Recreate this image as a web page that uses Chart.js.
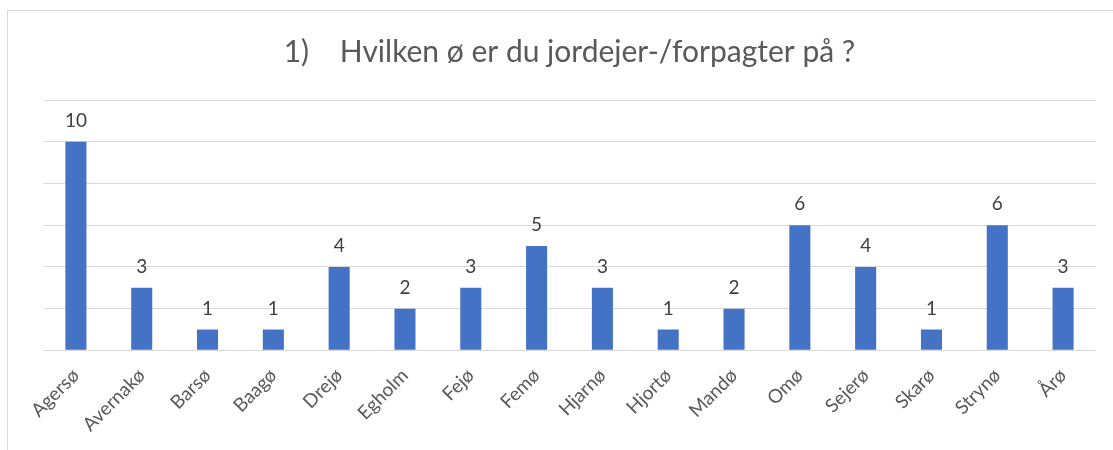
<!DOCTYPE html>
<html>
<head>
<meta charset="utf-8">
<script src="https://cdn.jsdelivr.net/npm/chart.js@4"></script>
<style>
    html, body { margin: 0; padding: 0; background: #fff; }
    #wrap { position: relative; width: 1113px; height: 450px; overflow: hidden; }
    #frame {
        position: absolute; left: 7px; top: 10px; width: 1200px; height: 500px;
        border-left: 1px solid #d9d9d9; border-top: 1px solid #d9d9d9;
    }
    #chart { position: absolute; left: 0; top: 0; }
</style>
</head>
<body>
<div id="wrap">
    <div id="frame"></div>
    <canvas id="chart" width="1113" height="450"></canvas>
</div>
<script>
// Chart data
const islands = ['Agersø', 'Avernakø', 'Barsø', 'Baagø', 'Drejø', 'Egholm', 'Fejø', 'Femø',
    'Hjarnø', 'Hjortø', 'Mandø', 'Omø', 'Sejerø', 'Skarø', 'Strynø', 'Årø'];
const answers = [10, 3, 1, 1, 4, 2, 3, 5, 3, 1, 2, 6, 4, 1, 6, 3];
const titleText = '1)    Hvilken ø er du jordejer-/forpagter på ?';

const fontFamily = "Lato, 'Open Sans', sans-serif";

// Draw value above each bar
const valueLabels = {
    id: 'valueLabels',
    afterDatasetsDraw(chart) {
        const ctx = chart.ctx;
        const meta = chart.getDatasetMeta(0);
        ctx.save();
        ctx.font = '19px ' + fontFamily;
        ctx.fillStyle = '#404040';
        ctx.textAlign = 'center';
        ctx.textBaseline = 'alphabetic';
        meta.data.forEach((bar, i) => {
            ctx.fillText(answers[i], bar.x, bar.y - 15);
        });
        ctx.restore();
    }
};

new Chart(document.getElementById('chart'), {
    type: 'bar',
    data: {
        labels: islands,
        datasets: [{
            data: answers,
            backgroundColor: '#4472c4',
            borderWidth: 0,
            barPercentage: 0.64,
            categoryPercentage: 0.5
        }]
    },
    options: {
        responsive: false,
        animation: false,
        layout: {
            padding: { left: 43, right: 17, top: 14, bottom: 8 }
        },
        scales: {
            x: {
                grid: { display: false },
                border: { display: false },
                ticks: {
                    color: '#595959',
                    font: { family: fontFamily, size: 19 },
                    minRotation: 45,
                    maxRotation: 45,
                    padding: 6
                }
            },
            y: {
                min: 0,
                max: 12,
                ticks: { stepSize: 2, display: false },
                grid: { color: '#d9d9d9', lineWidth: 1, drawTicks: false },
                border: { display: false }
            }
        },
        plugins: {
            legend: { display: false },
            tooltip: { enabled: false },
            title: {
                display: true,
                text: titleText,
                color: '#595959',
                font: { family: fontFamily, size: 30, weight: 'normal' },
                padding: { top: 20, bottom: 30 }
            }
        }
    },
    plugins: [valueLabels]
});
</script>
</body>
</html>
